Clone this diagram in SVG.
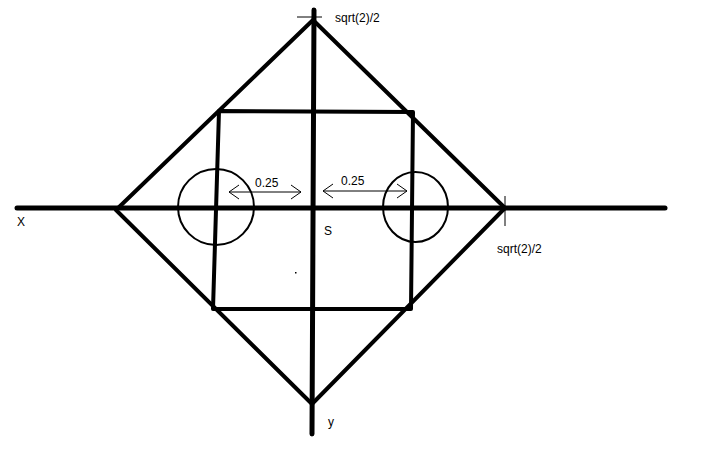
<svg xmlns="http://www.w3.org/2000/svg" width="720" height="450" viewBox="0 0 720 450">
<style>
.axis{stroke:#000;stroke-width:5;stroke-linecap:round;fill:none}
.thick{stroke:#000;stroke-width:4;stroke-linecap:round;stroke-linejoin:round;fill:none}
.circ{stroke:#000;stroke-width:2;fill:none}
.thin{stroke:#000;stroke-width:1;fill:none}
text{font-family:"Liberation Sans",Arial,sans-serif;font-size:12px;fill:#000}
</style>
<defs>
<marker id="ah" viewBox="0 0 12 16" refX="11" refY="8" markerWidth="12" markerHeight="16" markerUnits="userSpaceOnUse" orient="auto-start-reverse">
<path d="M1,1 L11,8 L1,15" fill="none" stroke="#000" stroke-width="1"/>
</marker>
</defs>
<rect width="720" height="450" fill="#fff"/>
<g id="connectors">
<line id="x-axis" class="axis" x1="17" y1="208" x2="665" y2="208"/>
<line id="y-axis" class="axis" x1="314" y1="10" x2="312" y2="434"/>
<polygon id="diamond" class="thick" points="313,20 505,208 312,404 116,210"/>
<polygon id="square" class="thick" points="219,111 413,112 411,309 213,309"/>
<line class="thin" x1="297" y1="17" x2="322" y2="17"/>
<line class="thin" x1="505" y1="196" x2="505" y2="226"/>
<line class="thin" x1="229" y1="192" x2="301" y2="192" marker-start="url(#ah)" marker-end="url(#ah)"/>
<line class="thin" x1="323" y1="191" x2="407" y2="191" marker-start="url(#ah)" marker-end="url(#ah)"/>
</g>
<g id="circle-left"><circle class="circ" cx="216" cy="207" r="38"/></g>
<g id="circle-right"><ellipse class="circ" cx="415.5" cy="207" rx="32.5" ry="35"/></g>
<g id="labels">
<text x="335" y="22">sqrt(2)/2</text>
<text x="497" y="253">sqrt(2)/2</text>
<text x="17" y="226">X</text>
<text x="324" y="235">S</text>
<text x="328" y="426">y</text>
<text x="255" y="187">0.25</text>
<text x="341" y="185">0.25</text>
</g>
<rect x="295" y="272" width="1.5" height="1.5" fill="#000"/>
</svg>
